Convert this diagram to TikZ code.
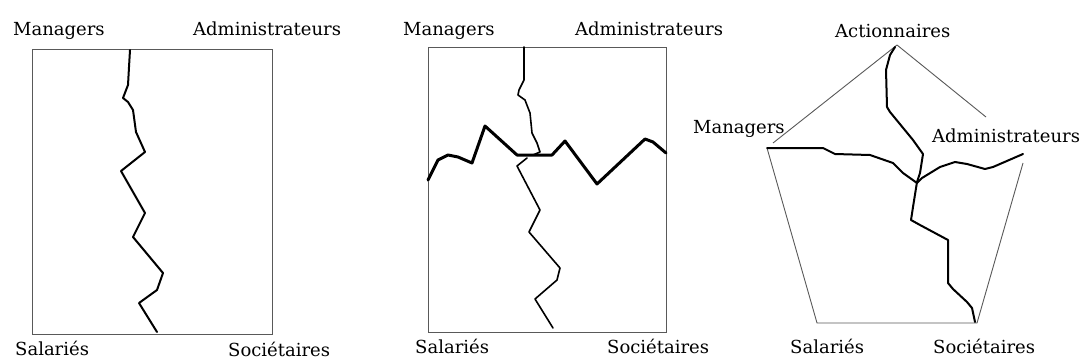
\documentclass[tikz,border=0pt]{standalone}
\usepackage{fontspec}
\setmainfont{DejaVu Serif}
\begin{document}
\begin{tikzpicture}[x=1pt,y=-1pt,
  lbl/.style={anchor=base west,inner sep=0pt,text=black,font=\fontsize{18}{20}\selectfont},
  frame/.style={draw=black!65,line width=0.9pt},
  crack/.style={draw=black,line width=2pt,line join=round,line cap=round},
  thincrack/.style={draw=black,line width=1.6pt,line join=round,line cap=round},
  thickcrack/.style={draw=black,line width=3pt,line join=round,line cap=round}]
\useasboundingbox (0,0) rectangle (1086,362);
\fill[white] (0,0) rectangle (1086,362);

% ---------- Panel 1 ----------
\node[lbl] (m1) at (13,35) {Managers};
\node[lbl] (a1) at (193,35) {Administrateurs};
\node[lbl] (s1) at (15,355) {Salariés};
\node[lbl] (so1) at (228,356) {Sociétaires};
\draw[frame] (32,49) rectangle (272,334);
\draw[crack] (130,50) -- (129,67) -- (128,85) -- (123,98) -- (128,102) -- (133,110)
  -- (136,132) -- (145,152) -- (121,171) -- (145,213) -- (133,237) -- (163,273)
  -- (157,290) -- (139,303) -- (157,332);

% ---------- Panel 2 ----------
\node[lbl] (m2) at (403,35) {Managers};
\node[lbl] (a2) at (575,35) {Administrateurs};
\node[lbl] (s2) at (415,353) {Salariés};
\node[lbl] (so2) at (607,353) {Sociétaires};
\draw[frame] (428,47) rectangle (666,332);
\draw[thincrack] (524,47) -- (524,80) -- (519,90) -- (518,95) -- (525,100) -- (530,113)
  -- (532,133) -- (537,143) -- (540,152) -- (533,155);
\draw[thickcrack] (428,180) -- (432,172) -- (438,160) -- (448,155) -- (458,157) -- (472,163)
  -- (485,126) -- (517,155) -- (552,155) -- (565,141) -- (597,184) -- (645,139)
  -- (653,142) -- (666,153);
\draw[thincrack] (527,158) -- (517,166) -- (540,210) -- (529,232) -- (560,268) -- (557,280)
  -- (535,299) -- (553,328);

% ---------- Panel 3 ----------
\node[lbl] (ac3) at (835,37) {Actionnaires};
\node[lbl] (m3) at (693,133) {Managers};
\node[lbl] (a3) at (932,142) {Administrateurs};
\node[lbl] (s3) at (790,353) {Salariés};
\node[lbl] (so3) at (933,353) {Sociétaires};
\coordinate (top) at (897,45);
\coordinate (lv) at (767,148);
\coordinate (bl) at (817,323);
\coordinate (br) at (977,323);
\coordinate (rv) at (1023,163);
\draw[frame] (top) -- (773,143);
\draw[frame] (top) -- (986,117);
\draw[frame] (lv) -- (bl) -- (br) -- (rv);
\draw[crack] (895,47) -- (890,55) -- (886,70) -- (887,107) -- (890,112) -- (913,140)
  -- (923,154) -- (920,173) -- (917,182) -- (913,207) -- (911,220) -- (920,225)
  -- (948,240) -- (948,283) -- (953,289) -- (967,302) -- (972,308) -- (975,322);
\draw[crack] (lv) -- (823,148) -- (835,154) -- (870,155) -- (893,163) -- (903,173)
  -- (917,183) -- (922,178) -- (940,167) -- (955,162) -- (967,164) -- (985,169)
  -- (993,167) -- (1023,154);
\end{tikzpicture}
\end{document}
